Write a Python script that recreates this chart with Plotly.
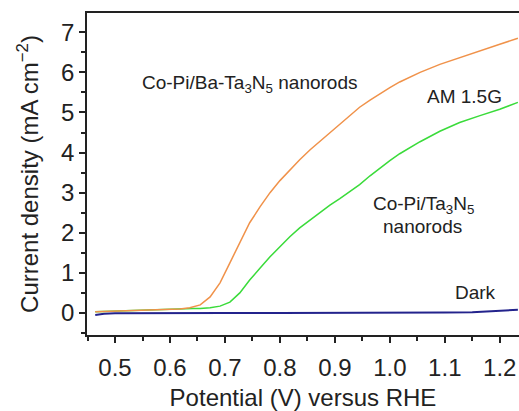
import plotly.graph_objects as go

# Potential (V vs RHE) and current density (mA cm^-2)
ba_x = [0.464, 0.50, 0.55, 0.60, 0.618, 0.636, 0.642, 0.655, 0.673, 0.691, 0.709, 0.727, 0.745,
        0.764, 0.782, 0.800, 0.818, 0.836, 0.855, 0.873, 0.891, 0.909, 0.927, 0.945, 0.964,
        0.982, 1.000, 1.018, 1.055, 1.091, 1.127, 1.164, 1.200, 1.233]
ba_y = [0.03, 0.05, 0.07, 0.10, 0.10, 0.13, 0.15, 0.20, 0.40, 0.75, 1.25, 1.75, 2.25,
        2.65, 3.00, 3.30, 3.57, 3.82, 4.07, 4.28, 4.50, 4.72, 4.93, 5.13, 5.31,
        5.47, 5.62, 5.76, 6.00, 6.20, 6.37, 6.53, 6.70, 6.85]

ta_x = [0.464, 0.50, 0.55, 0.60, 0.642, 0.655, 0.673, 0.691, 0.709, 0.727, 0.745, 0.764, 0.782,
        0.800, 0.818, 0.836, 0.855, 0.873, 0.891, 0.909, 0.927, 0.945, 0.964, 0.982, 1.000,
        1.018, 1.055, 1.091, 1.127, 1.164, 1.200, 1.233]
ta_y = [0.03, 0.05, 0.07, 0.09, 0.11, 0.11, 0.13, 0.17, 0.27, 0.50, 0.82, 1.12, 1.40,
        1.65, 1.90, 2.12, 2.32, 2.52, 2.69, 2.85, 3.02, 3.20, 3.42, 3.62, 3.80,
        3.97, 4.27, 4.53, 4.75, 4.92, 5.08, 5.25]

dark_x = [0.464, 0.48, 0.50, 0.60, 0.70, 0.80, 0.90, 1.00, 1.10, 1.15, 1.20, 1.233]
dark_y = [-0.05, -0.02, -0.01, 0.00, 0.00, 0.00, 0.00, 0.00, 0.01, 0.02, 0.05, 0.08]

x_ticks = [0.5, 0.6, 0.7, 0.8, 0.9, 1.0, 1.1, 1.2]
x_labels = ["0.5", "0.6", "0.7", "0.8", "0.9", "1.0", "1.1", "1.2"]
y_ticks = [0, 1, 2, 3, 4, 5, 6, 7]

FONT = "Liberation Sans, Arial, sans-serif"
AX = "#222222"
TXT = "#222222"

fig = go.Figure()
fig.add_trace(go.Scatter(x=dark_x, y=dark_y, mode="lines",
                         line=dict(color="#23238C", width=2), showlegend=False))
fig.add_trace(go.Scatter(x=ta_x, y=ta_y, mode="lines",
                         line=dict(color="#3ADB3A", width=1.5), showlegend=False))
fig.add_trace(go.Scatter(x=ba_x, y=ba_y, mode="lines",
                         line=dict(color="#F0924A", width=1.5), showlegend=False))

ann_font = dict(family=FONT, size=19, color=TXT)
fig.add_annotation(x=0.744, y=5.72, text="Co-Pi/Ba-Ta<sub>3</sub>N<sub>5</sub> nanorods",
                   showarrow=False, font=ann_font)
fig.add_annotation(x=1.136, y=5.4, text="AM 1.5G", showarrow=False, font=ann_font)
fig.add_annotation(x=1.062, y=2.7, text="Co-Pi/Ta<sub>3</sub>N<sub>5</sub>",
                   showarrow=False, font=ann_font)
fig.add_annotation(x=1.06, y=2.15, text="nanorods", showarrow=False, font=ann_font)
fig.add_annotation(x=1.155, y=0.5, text="Dark", showarrow=False, font=ann_font)

fig.update_xaxes(
    range=[0.449, 1.235], tickvals=x_ticks, ticktext=x_labels,
    ticks="outside", ticklen=6, tickwidth=1.5, tickcolor=AX,
    showline=True, linecolor=AX, linewidth=1.5, mirror=True,
    showgrid=False, zeroline=False, ticklabelstandoff=4,
    minor=dict(dtick=0.05, tick0=0.45, ticks="outside", ticklen=4, tickwidth=1.5, tickcolor=AX),
    tickfont=dict(family=FONT, size=24, color=TXT),
    title=dict(text="Potential (V) versus RHE", font=dict(family=FONT, size=24, color=TXT),
               standoff=12),
)
fig.update_yaxes(
    range=[-0.55, 7.48], tickvals=y_ticks,
    ticks="outside", ticklen=6, tickwidth=1.5, tickcolor=AX,
    showline=True, linecolor=AX, linewidth=1.5,
    showgrid=False, zeroline=False,
    minor=dict(dtick=0.5, tick0=0, ticks="outside", ticklen=4, tickwidth=1.5, tickcolor=AX),
    tickfont=dict(family=FONT, size=24, color=TXT),
    title=dict(text="Current density (mA cm<sup>\u22122</sup>)",
               font=dict(family=FONT, size=24, color=TXT), standoff=16),
)
fig.update_layout(
    width=519, height=411,
    margin=dict(l=87, r=0, t=13, b=76),
    plot_bgcolor="white", paper_bgcolor="white",
)
fig.write_html("out.html", config={"displayModeBar": False},
               post_script="document.body.style.margin='0';document.body.style.overflow='hidden';")
